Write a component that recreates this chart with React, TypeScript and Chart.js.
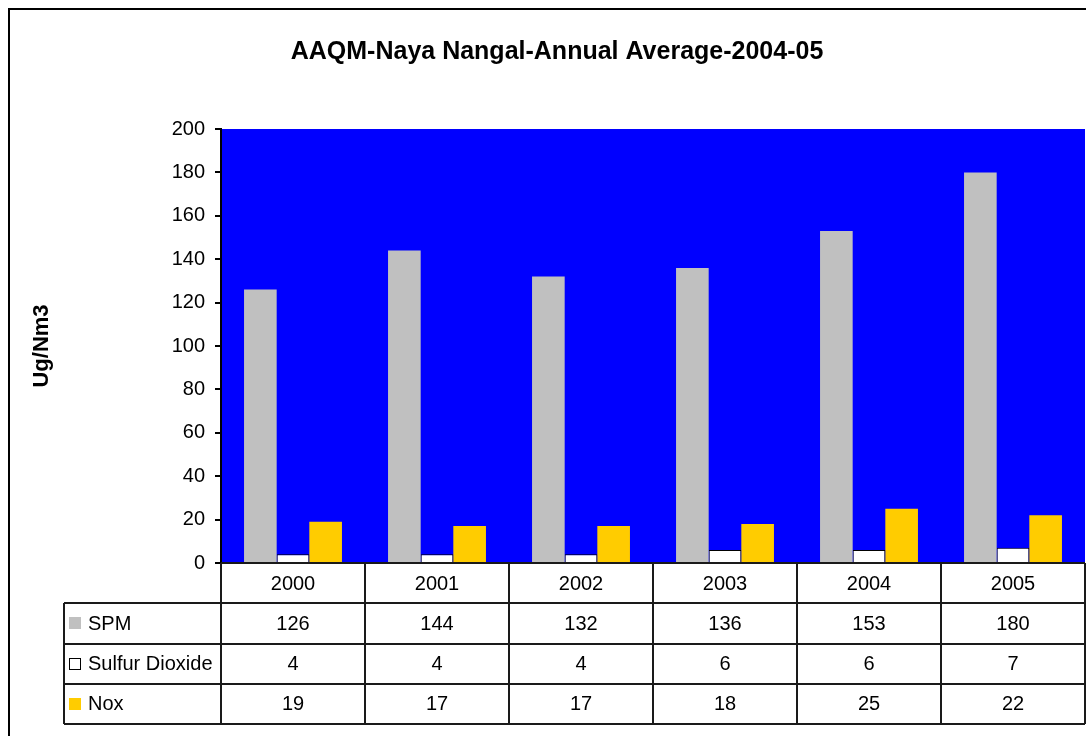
import React, { useEffect, useRef } from "react";
import { Chart, registerables } from "chart.js";

Chart.register(...registerables);

const years = ["2000", "2001", "2002", "2003", "2004", "2005"];
const spm = [126, 144, 132, 136, 153, 180];
const sulfurDioxide = [4, 4, 4, 6, 6, 7];
const nox = [19, 17, 17, 18, 25, 22];
const seriesNames = ["SPM", "Sulfur Dioxide", "Nox"];
const yTicks = [0, 20, 40, 60, 80, 100, 120, 140, 160, 180, 200];

const FONT = "'Liberation Sans', Arial, sans-serif";
const fills = ["#c0c0c0", "#ffffff", "#ffcc00"];

const tablePlugin = {
  id: "dataTable",
  beforeDraw(chart: any) {
    const { ctx, chartArea } = chart;
    ctx.save();
    ctx.fillStyle = "#ffffff";
    ctx.fillRect(0, 0, chart.width, chart.height);
    ctx.fillStyle = "#0000ff";
    ctx.fillRect(chartArea.left, chartArea.top, chartArea.right - chartArea.left, chartArea.bottom - chartArea.top);
    ctx.restore();
  },
  afterDraw(chart: any) {
    const { ctx, chartArea } = chart;
    const xs = chart.scales.x;
    const n = years.length;
    const left = chartArea.left;
    const right = chartArea.right;
    const top = chartArea.bottom;
    const rowH = 40.25;
    const labelLeft = 64;
    const colW = (right - left) / n;
    const rows = [spm, sulfurDioxide, nox];

    ctx.save();
    // outer border
    ctx.strokeStyle = "#000";
    ctx.lineWidth = 2;
    ctx.strokeRect(9, 9, chart.width + 20, chart.height + 20);

    ctx.strokeStyle = "#1a1a1a";
    ctx.lineWidth = 2;
    ctx.beginPath();
    for (let i = 0; i <= n; i++) {
      const x = Math.round(left + i * colW);
      ctx.moveTo(x, top);
      ctx.lineTo(x, top + rowH * 4);
    }
    ctx.moveTo(left, top);
    ctx.lineTo(right, top);
    for (let r = 1; r <= 4; r++) {
      const y = Math.round(top + r * rowH);
      ctx.moveTo(labelLeft, y);
      ctx.lineTo(right, y);
    }
    ctx.moveTo(labelLeft, Math.round(top + rowH));
    ctx.lineTo(labelLeft, Math.round(top + rowH * 4));
    ctx.stroke();

    ctx.fillStyle = "#000";
    ctx.font = `20px ${FONT}`;
    ctx.textAlign = "center";
    ctx.textBaseline = "middle";
    for (let i = 0; i < n; i++) {
      const cx = xs.getPixelForValue(i);
      ctx.fillText(years[i], cx, top + rowH / 2 + 1);
      for (let r = 0; r < rows.length; r++) {
        ctx.fillText(String(rows[r][i]), cx, top + rowH * (r + 1) + rowH / 2 + 1);
      }
    }
    ctx.textAlign = "left";
    for (let r = 0; r < rows.length; r++) {
      const cy = top + rowH * (r + 1) + rowH / 2;
      ctx.fillStyle = fills[r];
      ctx.fillRect(69, Math.round(cy - 6), 12, 12);
      if (r === 1) {
        ctx.strokeStyle = "#000";
        ctx.lineWidth = 1;
        ctx.strokeRect(69.5, Math.round(cy - 6) + 0.5, 11, 11);
      }
      ctx.fillStyle = "#000";
      ctx.fillText(seriesNames[r], 88, cy + 1);
    }
    ctx.restore();
  },
};

export default function App() {
  const ref = useRef<HTMLCanvasElement | null>(null);
  useEffect(() => {
    if (!ref.current) return;
    const chart = new Chart(ref.current, {
      type: "bar",
      data: {
        labels: years,
        datasets: [
          { label: seriesNames[0], data: spm, backgroundColor: fills[0], borderWidth: 0 },
          { label: seriesNames[1], data: sulfurDioxide, backgroundColor: fills[1], borderColor: "#000", borderWidth: 1 },
          { label: seriesNames[2], data: nox, backgroundColor: fills[2], borderWidth: 0 },
        ],
      },
      options: {
        responsive: false,
        animation: false,
        devicePixelRatio: 1,
        layout: { padding: { left: 29, right: 1, top: 0, bottom: 173 } },
        plugins: {
          legend: { display: false },
          tooltip: { enabled: false },
          title: {
            display: true,
            text: "AAQM-Naya Nangal-Annual Average-2004-05",
            color: "#000",
            font: { family: FONT, size: 25, weight: "bold" },
            padding: { top: 37, bottom: 62 },
          },
        },
        datasets: { bar: { categoryPercentage: 0.68, barPercentage: 1.0 } },
        scales: {
          x: { display: false, offset: true },
          y: {
            min: 0,
            max: 200,
            afterBuildTicks: (s: any) => {
              s.ticks = yTicks.map((v) => ({ value: v }));
            },
            afterFit: (s: any) => {
              s.width = 192;
            },
            ticks: { color: "#000", font: { family: FONT, size: 20 }, padding: 10 },
            grid: { drawOnChartArea: false, drawTicks: true, tickLength: 6, color: "#000", lineWidth: 2 },
            border: { display: true, color: "#000", width: 2 },
            title: {
              display: true,
              text: "Ug/Nm3",
              color: "#000",
              font: { family: FONT, size: 22, weight: "bold" },
              padding: { top: 0, bottom: 0 },
            },
          },
        },
      } as any,
      plugins: [tablePlugin],
    });
    return () => chart.destroy();
  }, []);
  return (
    <div style={{ position: "fixed", left: 0, top: 0, width: 1086, height: 736, background: "#fff" }}>
      <canvas ref={ref} width={1086} height={736} style={{ display: "block" }} />
    </div>
  );
}
